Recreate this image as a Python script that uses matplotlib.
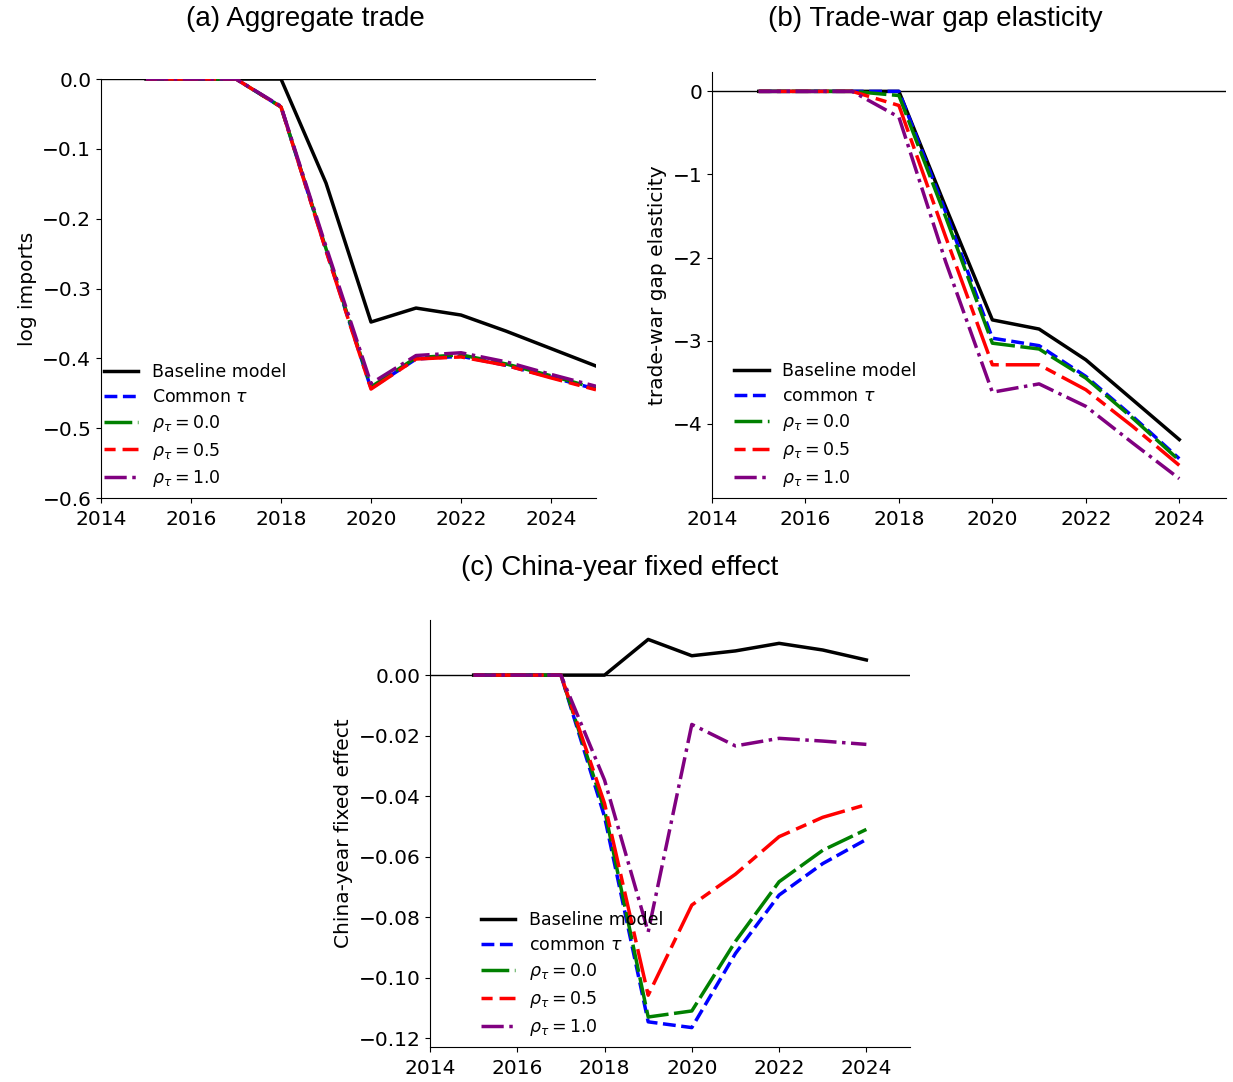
import matplotlib
matplotlib.use("Agg")
import matplotlib.pyplot as plt
import numpy as np

# ---------------- data ----------------
years_a = [2015, 2016, 2017, 2018, 2019, 2020, 2021, 2022, 2023, 2024, 2025]
base_a = [0, 0, 0, 0, -0.149, -0.348, -0.328, -0.338, -0.361, -0.386, -0.411]
common_a = [0, 0, 0, -0.040, -0.245, -0.443, -0.401, -0.397, -0.410, -0.427, -0.444]
rho0_a = [0, 0, 0, -0.040, -0.243, -0.441, -0.399, -0.395, -0.408, -0.425, -0.443]
rho05_a = [0, 0, 0, -0.040, -0.246, -0.444, -0.401, -0.398, -0.410, -0.428, -0.445]
rho1_a = [0, 0, 0, -0.039, -0.240, -0.436, -0.396, -0.392, -0.405, -0.423, -0.440]

years_b = [2015, 2016, 2017, 2018, 2019, 2020, 2021, 2022, 2023, 2024]
base_b = [0, 0, 0, 0, -1.39, -2.75, -2.86, -3.23, -3.71, -4.19]
common_b = [0, 0, 0, 0, -1.45, -2.97, -3.06, -3.43, -3.91, -4.42]
rho0_b = [0, 0, 0, -0.05, -1.51, -3.03, -3.10, -3.45, -3.93, -4.44]
rho05_b = [0, 0, 0, -0.17, -1.75, -3.29, -3.29, -3.59, -4.03, -4.50]
rho1_b = [0, 0, 0, -0.31, -2.05, -3.62, -3.52, -3.79, -4.23, -4.66]

years_c = [2015, 2016, 2017, 2018, 2019, 2020, 2021, 2022, 2023, 2024]
base_c = [0, 0, 0, 0, 0.0118, 0.0064, 0.0080, 0.0105, 0.0083, 0.0050]
common_c = [0, 0, 0, -0.0468, -0.1146, -0.1165, -0.0920, -0.0727, -0.0623, -0.0543]
rho0_c = [0, 0, 0, -0.0446, -0.1130, -0.1110, -0.0880, -0.0683, -0.0579, -0.0510]
rho05_c = [0, 0, 0, -0.0424, -0.1058, -0.0760, -0.0658, -0.0534, -0.0470, -0.0428]
rho1_c = [0, 0, 0, -0.0347, -0.0849, -0.0163, -0.0234, -0.0209, -0.0218, -0.0229]

xticks = [2014, 2016, 2018, 2020, 2022, 2024]

titles = ["(a) Aggregate trade", "(b) Trade-war gap elasticity", "(c) China-year fixed effect"]
ylabels = ["log imports", "trade-war gap elasticity", "China-year fixed effect"]
labels_a = ["Baseline model", r"Common $\tau$", r"$\rho_\tau = 0.0$", r"$\rho_\tau = 0.5$", r"$\rho_\tau = 1.0$"]
labels_bc = ["Baseline model", r"common $\tau$", r"$\rho_\tau = 0.0$", r"$\rho_\tau = 0.5$", r"$\rho_\tau = 1.0$"]

# ---------------- style ----------------
LW = 2.5
styles = [
    dict(color="black", linestyle="-"),
    dict(color="blue", linestyle="--"),
    dict(color="green", linestyle=(0, (8, 1.6))),
    dict(color="red", linestyle=(0, (3.2, 2, 9.8, 2))),
    dict(color="purple", linestyle="-."),
]

plt.rcParams["font.size"] = 14

fig = plt.figure(figsize=(12.33, 10.82), dpi=100)

W, H = 1233.0, 1082.0
def box(l, t, r, b):
    return [l / W, 1 - b / H, (r - l) / W, (b - t) / H]

ax_a = fig.add_axes(box(101, 79, 596, 498))
ax_b = fig.add_axes(box(712, 72, 1226, 498))
ax_c = fig.add_axes(box(430, 620, 910, 1047))

def draw(ax, years, series, labels, ylabel, leg_x, leg_y):
    ax.axhline(0, color="black", lw=1.0, zorder=1)
    for s, lab, st in zip(series, labels, styles):
        ax.plot(years, s, lw=LW, label=lab, **st)
    ax.set_xlim(2014, 2025)
    ax.set_xticks(xticks)
    ax.set_ylabel(ylabel, fontsize=14.5)
    ax.spines["top"].set_visible(False)
    ax.spines["right"].set_visible(False)
    ax.tick_params(labelsize=14.5)
    ax.tick_params(axis="x", pad=5)
    ax.legend(loc="lower left", bbox_to_anchor=(leg_x, leg_y), frameon=False,
              fontsize=12.5, handlelength=2.0, labelspacing=0.4)

draw(ax_a, years_a, [base_a, common_a, rho0_a, rho05_a, rho1_a], labels_a, ylabels[0], -0.026, -0.017)
ax_a.set_ylim(-0.6, 0.0)
ax_a.set_yticks(np.arange(-0.6, 0.01, 0.1))

draw(ax_b, years_b, [base_b, common_b, rho0_b, rho05_b, rho1_b], labels_bc, ylabels[1], 0.012, -0.016)
draw(ax_c, years_c, [base_c, common_c, rho0_c, rho05_c, rho1_c], labels_bc, ylabels[2], 0.073, -0.016)

tfont = dict(family=["Liberation Sans", "DejaVu Sans"], fontsize=20, ha="center", va="center")
fig.text(305 / W, 1 - 19 / H, titles[0], **tfont)
fig.text(935 / W, 1 - 19 / H, titles[1], **tfont)
fig.text(620 / W, 1 - 568 / H, titles[2], **tfont)

fig.savefig("out.png", dpi=100)
